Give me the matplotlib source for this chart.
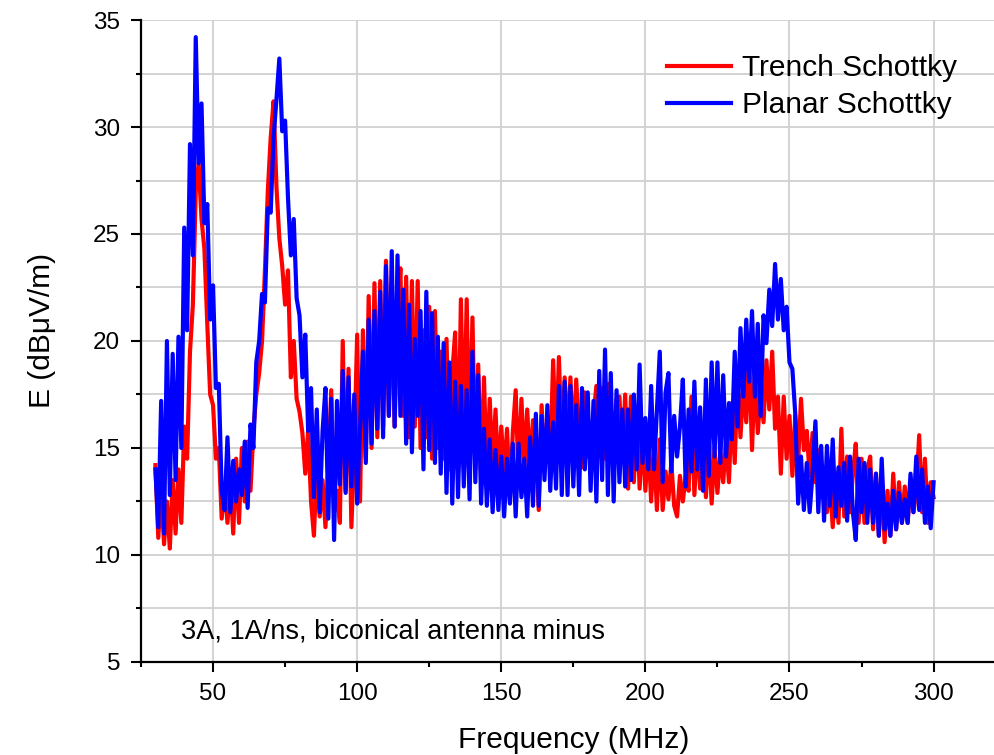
import matplotlib
matplotlib.use("Agg")
import matplotlib.pyplot as plt
from matplotlib.ticker import MultipleLocator
import numpy as np

plt.rcParams["font.family"] = ["Liberation Sans", "DejaVu Sans"]

# frequency axis, 1 MHz steps (30 .. 300 MHz)
freq = np.arange(30, 301)

# Trench Schottky, E (dBuV/m)
trench = [
    14.2, 10.8, 13.0, 10.5, 12.5, 10.3, 13.5, 11.0, 14.0, 11.5,   # 30-39
    16.0, 14.5, 19.5, 21.7, 27.0, 28.3, 25.7, 24.3, 20.8, 17.5,   # 40-49
    17.0, 14.5, 15.0, 11.7, 13.3, 11.5, 13.5, 11.0, 14.5, 11.5,   # 50-59
    15.0, 12.5, 15.3, 13.0, 15.8, 17.5, 18.5, 20.0, 23.3, 27.0,   # 60-69
    29.5, 31.2, 27.2, 24.8, 23.5, 21.7, 23.3, 18.3, 20.0, 17.3,   # 70-79
    16.7, 15.7, 13.8, 15.8, 12.5, 10.9, 14.2, 11.8, 13.5, 11.3,   # 80-89
    14.0, 17.7, 12.0, 13.0, 11.5, 20.0, 13.0, 18.7, 11.3, 15.0,   # 90-99
    20.3, 12.5, 20.5, 14.5, 22.1, 15.0, 22.7, 15.5, 22.8, 16.0,   # 100-109
    23.75, 16.5, 22.5, 16.0, 21.0, 23.4, 16.5, 23.0, 15.5, 22.8,  # 110-119
    16.0, 22.8, 15.0, 20.5, 15.5, 21.6, 14.5, 21.4, 15.0, 19.5,   # 120-129
    14.5, 20.1, 14.0, 18.5, 20.4, 14.0, 21.95, 15.0, 21.95, 14.5, # 130-139
    21.1, 14.0, 18.9, 13.5, 18.3, 13.5, 17.3, 14.0, 16.8, 13.5,   # 140-149
    16.0, 13.7, 15.9, 12.6, 15.7, 17.7, 13.5, 17.3, 14.0, 16.8,   # 150-159
    14.0, 16.3, 15.0, 12.1, 17.0, 14.0, 16.5, 14.5, 19.1, 15.0,   # 160-169
    19.25, 15.0, 18.3, 15.5, 18.3, 15.0, 18.2, 15.5, 14.1, 17.6,  # 170-179
    14.6, 15.5, 16.5, 17.9, 15.0, 17.8, 14.5, 18.0, 17.2, 14.5,   # 180-189
    17.3, 17.4, 14.5, 17.5, 13.1, 17.4, 13.4, 16.8, 13.1, 15.8,   # 190-199
    13.0, 15.4, 12.5, 15.1, 12.1, 15.4, 12.1, 13.9, 12.6, 14.3,   # 200-209
    12.3, 11.8, 13.7, 12.5, 13.7, 13.0, 17.4, 12.8, 15.4, 13.1,   # 210-219
    15.9, 12.7, 15.3, 12.4, 15.0, 12.9, 14.8, 13.4, 15.4, 13.4,   # 220-229
    17.1, 14.3, 18.4, 15.5, 18.0, 16.2, 19.5, 14.9, 18.7, 15.7,   # 230-239
    17.7, 16.2, 19.1, 16.8, 19.5, 15.9, 17.4, 13.8, 17.4, 14.5,   # 240-249
    16.5, 13.7, 16.5, 14.3, 17.3, 14.9, 15.8, 13.7, 15.7, 13.4,   # 250-259
    14.9, 12.7, 14.0, 12.0, 13.5, 11.3, 13.8, 11.5, 15.9, 11.8,   # 260-269
    14.6, 12.0, 13.8, 15.2, 11.5, 14.5, 11.5, 14.0, 14.6, 11.2,   # 270-279
    13.8, 10.9, 13.7, 10.6, 13.0, 10.9, 13.8, 11.2, 13.4, 11.5,   # 280-289
    13.2, 11.5, 13.5, 12.0, 13.0, 15.6, 12.0, 14.5, 11.5, 13.4,   # 290-299
    12.7,                                                         # 300
]

# Planar Schottky
planar = [
    14.0, 11.3, 17.2, 11.0, 20.0, 12.8, 19.4, 13.5, 20.2, 15.0,   # 30-39
    25.3, 20.5, 29.2, 24.0, 34.2, 28.3, 31.1, 25.5, 26.4, 21.0,   # 40-49
    22.6, 17.8, 18.0, 13.0, 12.1, 15.5, 12.0, 14.4, 12.5, 14.0,   # 50-59
    12.8, 15.3, 12.2, 16.1, 15.0, 19.0, 20.0, 22.2, 21.8, 26.2,   # 60-69
    26.0, 29.5, 31.3, 33.2, 29.8, 30.3, 26.7, 24.0, 25.7, 22.0,   # 70-79
    21.2, 18.3, 20.3, 15.8, 17.8, 12.7, 16.8, 12.0, 15.8, 17.8,   # 80-89
    11.7, 17.3, 10.7, 17.2, 13.3, 18.6, 12.9, 18.3, 13.2, 17.5,   # 90-99
    12.4, 16.0, 19.5, 14.3, 21.0, 15.2, 21.4, 15.9, 22.3, 15.5,   # 100-109
    23.5, 16.5, 24.2, 16.0, 24.0, 16.5, 22.4, 15.2, 21.7, 14.8,   # 110-119
    20.1, 16.5, 21.4, 14.0, 22.3, 14.9, 21.3, 14.3, 20.2, 13.8,   # 120-129
    19.9, 12.9, 19.0, 12.4, 18.1, 12.7, 17.9, 13.2, 17.7, 12.6,   # 130-139
    19.5, 13.4, 18.4, 12.4, 15.9, 12.3, 15.4, 12.0, 14.9, 12.1,   # 140-149
    14.6, 11.8, 14.5, 12.4, 15.2, 11.8, 15.2, 12.7, 14.5, 11.8,   # 150-159
    15.5, 12.3, 16.6, 12.3, 16.5, 13.5, 17.0, 13.0, 16.2, 13.1,   # 160-169
    17.9, 12.8, 18.1, 12.8, 17.9, 13.2, 17.0, 12.8, 17.8, 14.0,   # 170-179
    17.6, 13.0, 17.2, 12.5, 18.6, 13.5, 19.6, 12.8, 18.5, 12.5,   # 180-189
    17.7, 13.4, 16.8, 13.2, 16.8, 13.5, 17.5, 14.0, 18.9, 14.3,   # 190-199
    16.4, 14.0, 17.9, 14.0, 16.8, 19.5, 13.4, 17.6, 18.5, 13.9,   # 200-209
    16.5, 14.6, 16.0, 18.2, 13.2, 16.8, 13.9, 18.1, 14.0, 16.9,   # 210-219
    13.0, 18.2, 13.7, 19.0, 14.6, 19.0, 14.3, 18.4, 14.6, 17.1,   # 220-229
    15.4, 19.5, 16.0, 20.6, 17.4, 21.0, 18.1, 21.4, 17.4, 20.8,   # 230-239
    16.5, 21.2, 19.9, 22.4, 20.7, 23.6, 21.0, 22.9, 20.5, 21.6,   # 240-249
    19.0, 18.7, 16.6, 12.4, 14.6, 12.1, 14.3, 12.0, 13.8, 16.25,  # 250-259
    12.0, 15.1, 11.6, 15.1, 12.3, 15.4, 11.8, 14.1, 12.3, 14.3,   # 260-269
    11.6, 14.6, 12.0, 10.7, 14.5, 12.0, 14.3, 11.5, 14.0, 11.5,   # 270-279
    13.8, 10.9, 14.5, 11.2, 12.4, 10.9, 13.0, 11.2, 12.9, 11.5,   # 280-289
    12.6, 11.5, 13.8, 12.0, 14.6, 12.1, 14.0, 11.5, 13.2, 11.25,  # 290-299
    13.4,                                                         # 300
]

fig = plt.figure(figsize=(9.95, 7.55), dpi=100)
ax = fig.add_axes([0.1417, 0.1232, 0.869, 0.8503])

ax.plot(freq, trench, color="#ff0000", lw=3.0, label="Trench Schottky", zorder=3)
ax.plot(freq, planar, color="#0000ff", lw=3.0, label="Planar Schottky", zorder=4)

ax.set_xlim(25, 325)
ax.set_ylim(5, 35)
ax.xaxis.set_major_locator(MultipleLocator(50))
ax.xaxis.set_minor_locator(MultipleLocator(25))
ax.yaxis.set_major_locator(MultipleLocator(5))
ax.yaxis.set_minor_locator(MultipleLocator(2.5))

# grid: vertical at major x, horizontal at every 2.5
ax.grid(axis="x", which="major", color="#d0d0d0", lw=1.3, zorder=0)
ax.grid(axis="y", which="both", color="#d0d0d0", lw=1.3, zorder=0)
ax.set_axisbelow(True)

ax.spines["top"].set_visible(False)
ax.spines["right"].set_visible(False)
ax.spines["left"].set_linewidth(1.6)
ax.spines["bottom"].set_linewidth(1.6)
ax.tick_params(which="major", direction="out", length=7, width=1.5,
               labelsize=17.5, pad=8)
ax.tick_params(which="minor", direction="out", length=3.5, width=1.5)

ax.set_xlabel("Frequency (MHz)", fontsize=21.5)
ax.xaxis.set_label_coords(574 / 995, 1 - 726 / 755, transform=fig.transFigure)
ax.set_ylabel("E (dBμV/m)", fontsize=21.5)
ax.yaxis.set_label_coords(56 / 995, 1 - 330 / 755, transform=fig.transFigure)

fig.text(181 / 995, 1 - 631 / 755, "3A, 1A/ns, biconical antenna minus",
         fontsize=19.5, va="center", ha="left")

ax.legend(loc="upper left", bbox_to_anchor=(667 / 995, 1 - 54 / 755),
          bbox_transform=fig.transFigure, frameon=False, fontsize=21.5,
          handlelength=2.15, handletextpad=0.35, labelspacing=0.3,
          borderpad=0, borderaxespad=0)

fig.savefig("out.png", dpi=100)
